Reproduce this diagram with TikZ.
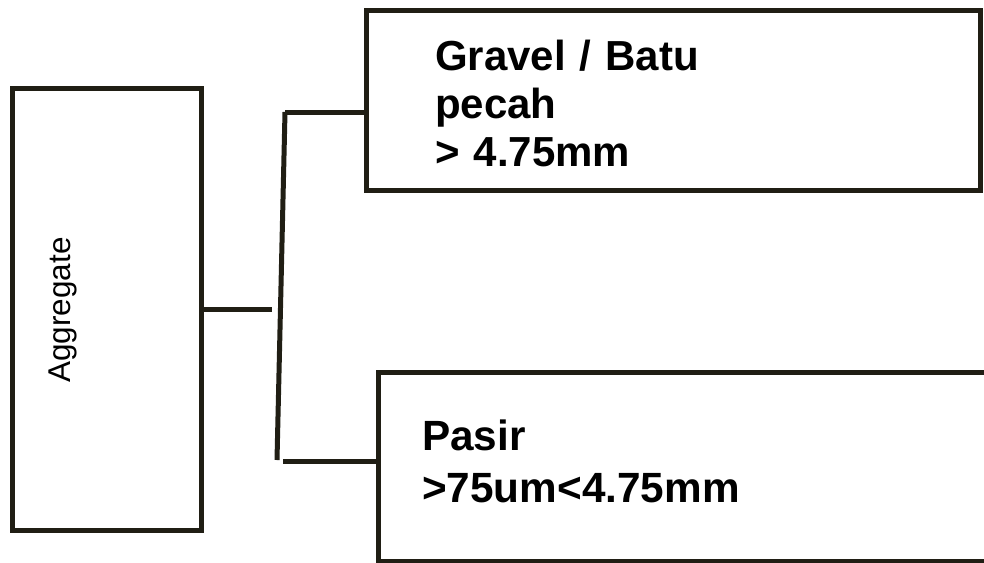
\documentclass[tikz,border=0pt]{standalone}
\usepackage{fontspec}
\setmainfont{Liberation Sans}
\definecolor{ink}{RGB}{32,30,20}
\begin{document}
\begin{tikzpicture}[x=1pt,y=-1pt,
  box/.style={draw=ink,line width=5pt,rectangle,inner sep=0pt},
  conn/.style={draw=ink,line width=5pt},
  bigtext/.style={anchor=base west,text width=500pt,align=left,inner sep=0pt,text=black}]
\useasboundingbox (0,0) rectangle (984,562);
\clip (0,0) rectangle (984,562);
% boxes
\node[box,minimum width=189pt,minimum height=442pt] (agg) at (106.5,309) {};
\node[box,minimum width=614pt,minimum height=180pt] (grav) at (673,100) {};
\node[box,minimum width=622pt,minimum height=189pt] (pas) at (689,466.5) {};
% texts
\node[rotate=90,inner sep=0pt,font=\fontsize{31.5}{36}\selectfont] (aggt) at (63,310) {Aggregate};
\node[bigtext,font=\bfseries\fontsize{42}{48}\selectfont] (gravt) at (435,70) {Gravel / Batu\\pecah\\> 4.75mm};
\node[bigtext,font=\bfseries\fontsize{42.3}{52}\selectfont] (past) at (422,450) {Pasir\\>75um<4.75mm};
% connectors
\coordinate (j1) at (272,309);
\coordinate (vt) at (285,112);
\coordinate (vb) at (277,460);
\coordinate (hb) at (283,461);
\draw[conn] (agg.east) -- (j1);
\draw[conn] (vt) -- (vb);
\draw[conn] (vt) -- (vt -| grav.west);
\draw[conn] (hb) -- (hb -| pas.west);
\end{tikzpicture}
\end{document}
